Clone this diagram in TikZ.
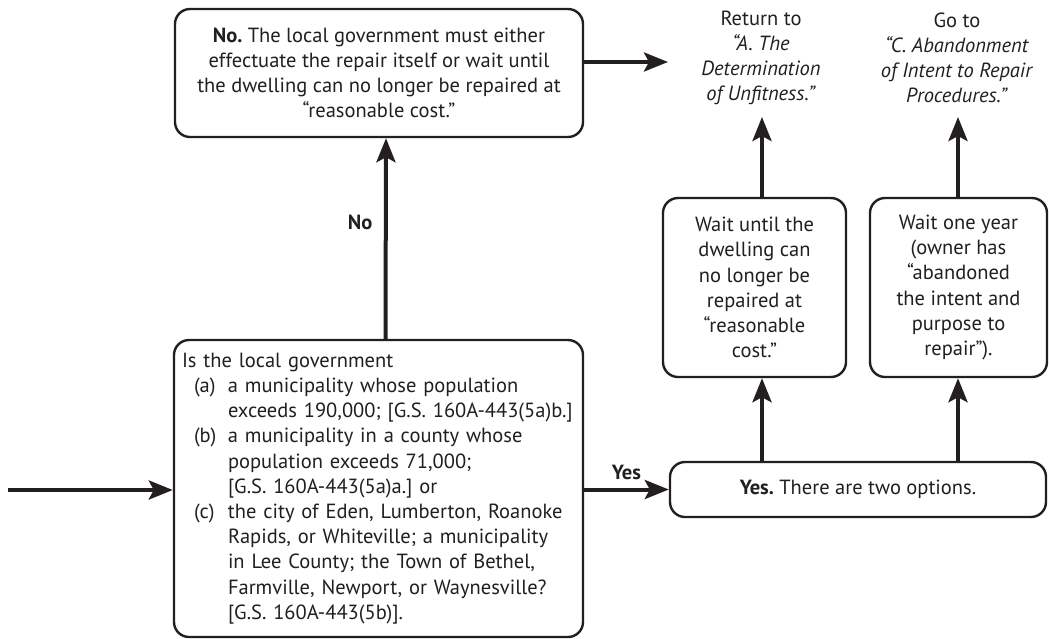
\documentclass[tikz,border=0pt]{standalone}
\usepackage{fontspec}
\setmainfont{PT Sans}
\usepackage{xcolor}
\usetikzlibrary{arrows.meta, positioning, calc}

\definecolor{ink}{RGB}{35,31,32}
\newcommand{\flowfont}{\fontsize{20.5}{25.2}\selectfont\frenchspacing}
\newcommand{\itemlbl}[1]{\hspace*{12pt}\makebox[34pt][l]{#1}}
\newcommand{\itemcont}{\hspace*{46pt}}

\begin{document}
\begin{tikzpicture}[
        x=1pt, y=-1pt,
        box/.style={
            rectangle, rounded corners=15pt, draw=ink, line width=2.4pt,
            fill=white, align=center, inner sep=0pt, font=\flowfont, text=ink
        },
        note/.style={align=center, inner sep=0pt, font=\flowfont, text=ink},
        lbl/.style={font=\flowfont\bfseries, text=ink},
        arr/.style={-{Stealth[length=24pt, width=19pt, inset=5pt]}, line width=4pt, ink}
    ]
    \useasboundingbox (0,0) rectangle (1049,638);

    % === Question ===
    \node[box, align=left, text width=393pt, inner xsep=8pt, minimum height=297pt] (q) at (378.5,488.5) {%
        Is the local government\\
        \itemlbl{(a)}a municipality whose population\\
        \itemcont exceeds 190,000; [G.S. 160A-443(5a)b.]\\
        \itemlbl{(b)}a municipality in a county whose\\
        \itemcont population exceeds 71,000;\\
        \itemcont [G.S. 160A-443(5a)a.] or\\
        \itemlbl{(c)}the city of Eden, Lumberton, Roanoke\\
        \itemcont Rapids, or Whiteville; a municipality\\
        \itemcont in Lee County; the Town of Bethel,\\
        \itemcont Farmville, Newport, or Waynesville?\\
        \itemcont [G.S. 160A-443(5b)].};

    % === No branch ===
    \node[box, minimum width=408pt, minimum height=128pt] (nobox) at (379,73) {%
        \textbf{No.} The local government must either\\
        effectuate the repair itself or wait until\\
        the dwelling can no longer be repaired at\\
        “reasonable cost.”};

    % === Yes branch ===
    \node[box, minimum width=376pt, minimum height=55pt] (yes) at (858,489.5) {\textbf{Yes.} There are two options.};
    \node[box, minimum width=183pt, minimum height=179pt] (wait1) at (754.5,287.5) {%
        Wait until the\\dwelling can\\no longer be\\repaired at\\“reasonable\\cost.”};
    \node[box, minimum width=177pt, minimum height=179pt] (wait2) at (958.5,287.5) {%
        Wait one year\\(owner has\\“abandoned\\the intent and\\purpose to\\repair”).};

    % === Targets ===
    \node[note] (ret) at (761,58) {Return to\\\textit{“A. The}\\\textit{Determination}\\\textit{of Unfitness.”}};
    \node[note] (goto) at (957,58) {Go to\\\textit{“C. Abandonment}\\\textit{of Intent to Repair}\\\textit{Procedures.”}};

    \coordinate (entry) at (8,490);
    \coordinate (nxt) at (668,62);
    \coordinate (c1) at (762,117);
    \coordinate (c2) at (958,117);

    % === Arrows ===
    \draw[arr] (entry) -- (entry -| q.west);
    \draw[arr] ($(q.north)+(7,0)$) -- ($(nobox.south)+(7,0)$) node[lbl, pos=0.58, left=8pt] {No};
    \draw[arr] (q.east |- yes.west) -- node[lbl, above=4pt] {Yes} (yes.west);
    \draw[arr] (nobox.east |- nxt) -- (nxt);
    \draw[arr] (yes.north -| c1) -- (wait1.south -| c1);
    \draw[arr] (yes.north -| c2) -- (wait2.south -| c2);
    \draw[arr] (wait1.north -| c1) -- (c1);
    \draw[arr] (wait2.north -| c2) -- (c2);
\end{tikzpicture}
\end{document}
